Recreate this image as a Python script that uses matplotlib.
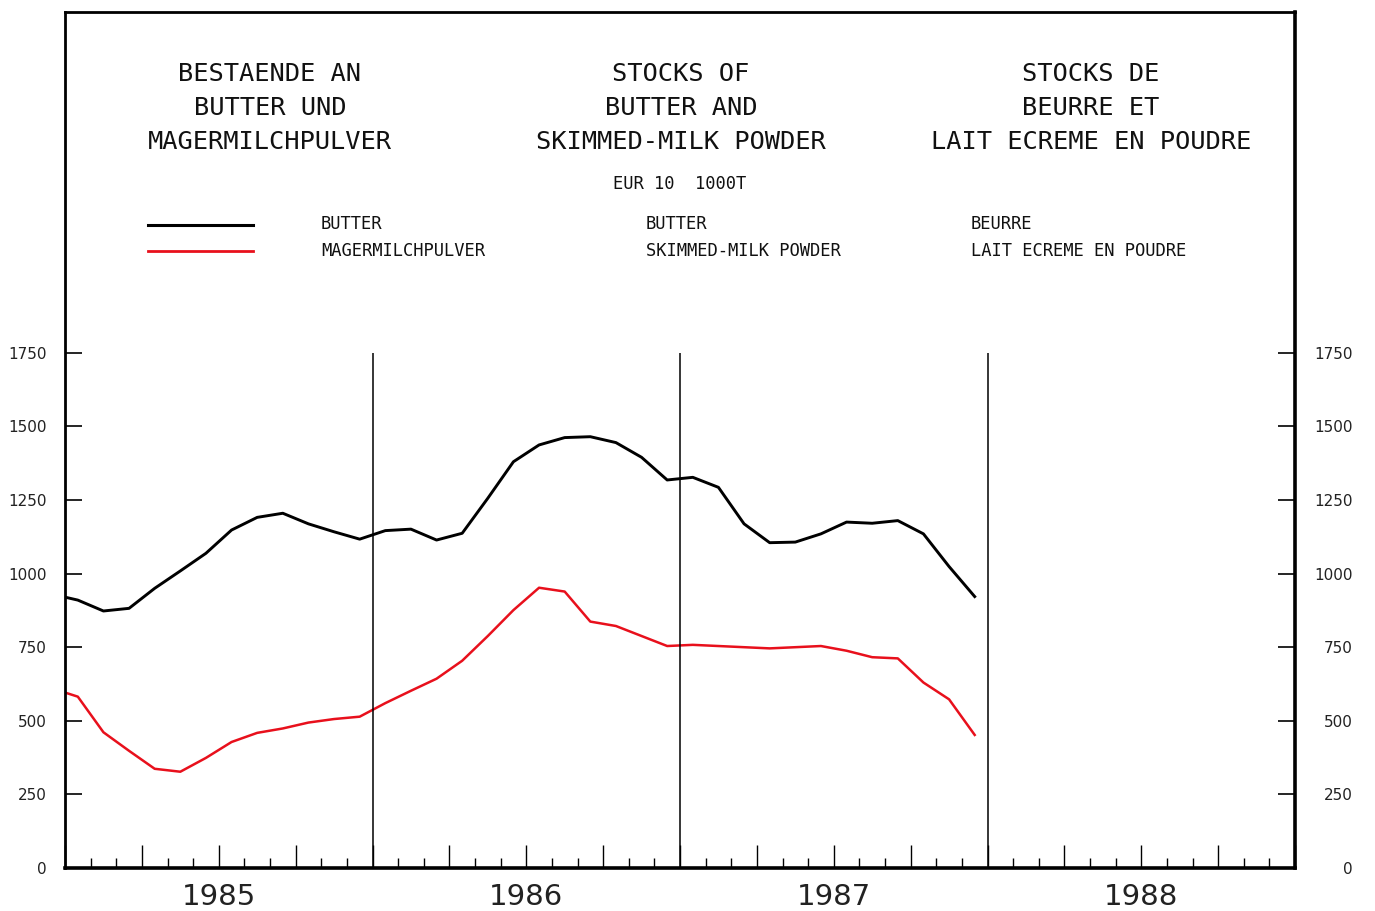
import matplotlib
matplotlib.use("Agg")
import matplotlib.pyplot as plt
from matplotlib.lines import Line2D
import numpy as np

# ---- data (monthly stocks, 1000 t, Dec 1984 .. Dec 1987) ----
months = ["1984-12",
          "1985-01", "1985-02", "1985-03", "1985-04", "1985-05", "1985-06",
          "1985-07", "1985-08", "1985-09", "1985-10", "1985-11", "1985-12",
          "1986-01", "1986-02", "1986-03", "1986-04", "1986-05", "1986-06",
          "1986-07", "1986-08", "1986-09", "1986-10", "1986-11", "1986-12",
          "1987-01", "1987-02", "1987-03", "1987-04", "1987-05", "1987-06",
          "1987-07", "1987-08", "1987-09", "1987-10", "1987-11", "1987-12"]
butter = [930, 910, 873, 882, 950, 1009, 1069, 1148, 1191, 1205, 1169, 1142, 1117,
          1146, 1151, 1114, 1137, 1256, 1380, 1437, 1462, 1465, 1445, 1395, 1318,
          1327, 1293, 1169, 1105, 1107, 1135, 1175, 1171, 1180, 1135, 1024, 922]
skimmed = [610, 582, 461, 398, 337, 327, 374, 428, 459, 474, 494, 506, 514,
           560, 602, 643, 704, 788, 876, 952, 939, 837, 822, 788, 754,
           758, 754, 750, 746, 750, 754, 738, 716, 712, 630, 573, 452]
years = ["1985", "1986", "1987", "1988"]
yticks = [0, 250, 500, 750, 1000, 1250, 1500, 1750]

W, H = 1375, 911
fig = plt.figure(figsize=(W / 100, H / 100), dpi=100)
fig.patch.set_facecolor("white")

def fx(px):
    return px / W

def fy(py):
    return 1 - py / H

ax = fig.add_axes([fx(65), fy(868), fx(1295) - fx(65), fy(12) - fy(868)])

# x in month units: 0 = 1 Jan 1985 ; points at mid-month
def month_pos(s):
    y, m = s.split("-")
    return (int(y) - 1985) * 12 + (int(m) - 1) + 0.5

x = np.array([month_pos(m) for m in months])
ax.plot(x, butter, color="black", lw=2.1, solid_joinstyle="round", clip_on=True)
ax.plot(x, skimmed, color="#e8101c", lw=1.8, solid_joinstyle="round", clip_on=True)

ax.set_xlim(0, 48)
top_val = (868 - 12) / 73.6 * 250
ax.set_ylim(0, top_val)

# year separators
ax.vlines([12, 24, 36], 0, 1750, color="black", lw=1.1)

# ticks
ax.set_yticks(yticks)
ax.set_yticklabels([str(v) for v in yticks])
ax.tick_params(axis="y", direction="in", length=12.5, width=1.2,
               left=True, right=True, labelleft=True, labelright=True,
               labelsize=11, pad=13, labelcolor="#222222")

ax.set_xticks(np.arange(0, 49, 3))
ax.set_xticks(np.arange(0, 49, 1), minor=True)
ax.tick_params(axis="x", which="major", direction="in", length=16.5, width=1.0,
               labelbottom=False)
ax.tick_params(axis="x", which="minor", direction="in", length=7.5, width=1.0)

for s in ["left", "top"]:
    ax.spines[s].set_linewidth(2.0)
for s in ["bottom", "right"]:
    ax.spines[s].set_linewidth(2.6)

# year labels
trans = ax.get_xaxis_transform()
for i, yl in enumerate(years):
    ax.text(i * 12 + 6, -(905 - 868) / (868 - 12), yl, transform=trans,
            ha="center", va="baseline", fontsize=21, color="#222222")

# titles
mono = "DejaVu Sans Mono"
big = 18.3
small = 12.3
cols = [270, 681, 1091]
titles = [["BESTAENDE AN", "BUTTER UND", "MAGERMILCHPULVER"],
          ["STOCKS OF", "BUTTER AND", "SKIMMED-MILK POWDER"],
          ["STOCKS DE", "BEURRE ET", "LAIT ECREME EN POUDRE"]]
base_rows = [81, 115, 149]
for cx, lines in zip(cols, titles):
    for by, txt in zip(base_rows, lines):
        fig.text(fx(cx), fy(by), txt, ha="center", va="baseline",
                 fontsize=big, family=mono, color="#111111")

fig.text(fx(613), fy(189), "EUR 10  1000T", ha="left", va="baseline",
         fontsize=small, family=mono, color="#111111")

legend_names = [["BUTTER", "MAGERMILCHPULVER"],
                ["BUTTER", "SKIMMED-MILK POWDER"],
                ["BEURRE", "LAIT ECREME EN POUDRE"]]
leg_x = [321, 646, 971]
leg_base = [229, 256]
for lx, names in zip(leg_x, legend_names):
    for by, nm in zip(leg_base, names):
        fig.text(fx(lx), fy(by), nm, ha="left", va="baseline",
                 fontsize=small, family=mono, color="#111111")

fig.add_artist(Line2D([fx(148), fx(253)], [fy(225), fy(225)], color="black", lw=2.2,
                      transform=fig.transFigure))
fig.add_artist(Line2D([fx(148), fx(253)], [fy(251), fy(251)], color="#e8101c", lw=2.0,
                      transform=fig.transFigure))

# right tick labels right-aligned ending near x=1353 px (pad of 18 px is added)
fig.canvas.draw()
for t in ax.yaxis.get_major_ticks():
    t.label2.set_horizontalalignment("right")
    t.label2.set_x(1 + (1353 - 1295 - 18) / (1295 - 65))

fig.savefig("out.png", dpi=100, facecolor="white")
